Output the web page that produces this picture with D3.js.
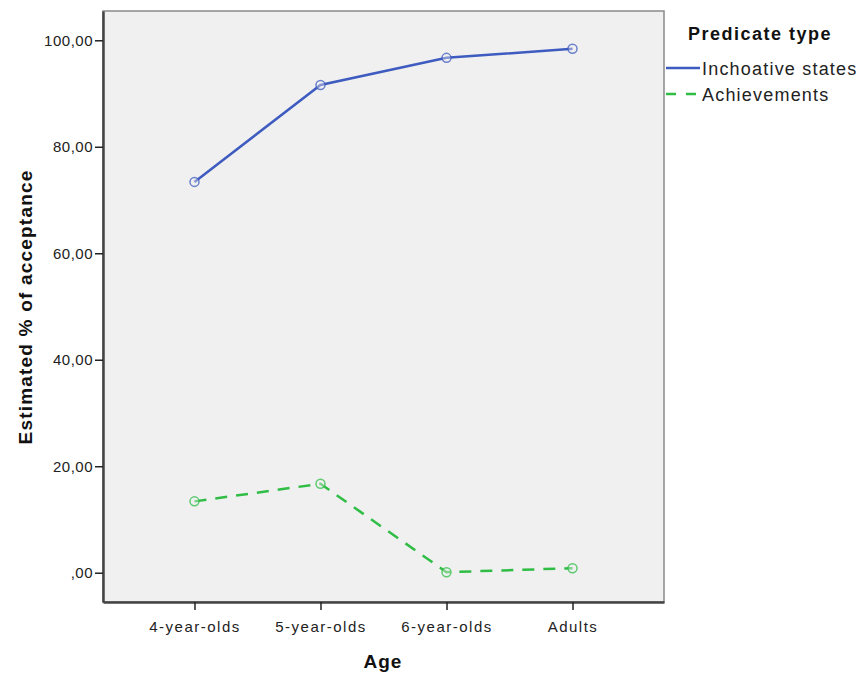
<!DOCTYPE html>
<html><head><meta charset="utf-8">
<script src="https://cdn.jsdelivr.net/npm/d3@7"></script>
<style>body{margin:0;background:#fff;} text{font-family:"Liberation Sans",Arial,sans-serif;}</style>
</head><body>
<svg id="c" width="863" height="673"></svg>
<script>
const categories = ["4-year-olds","5-year-olds","6-year-olds","Adults"];
const inchoative = [73.4, 91.6, 96.7, 98.4];
const achievements = [13.4, 16.7, 0.1, 0.85];
const seriesNames = ["Inchoative states","Achievements"];
const yTicks = [0,20,40,60,80,100];
const yTickLabels = [",00","20,00","40,00","60,00","80,00","100,00"];

const svg = d3.select("#c");
const L=103, T=11, R=664, B=602;
const x = d3.scalePoint().domain(categories).range([L,R]).padding(0.726);
const y = d3.scaleLinear().domain([-5.5,105.5]).range([B,T]);

svg.append("rect").attr("x",L).attr("y",T).attr("width",R-L).attr("height",B-T)
  .attr("fill","#f0f0f0").attr("stroke","#8a8a8a").attr("stroke-width",1.5);

// axes
const ya = svg.append("g").attr("transform",`translate(${L},0)`)
  .call(d3.axisLeft(y).tickValues(yTicks).tickFormat((d,i)=>yTickLabels[i]).tickSize(8).tickSizeOuter(0).tickPadding(2));
const xa = svg.append("g").attr("transform",`translate(0,${B})`)
  .call(d3.axisBottom(x).tickSize(8).tickSizeOuter(0).tickPadding(5));
[ya,xa].forEach(g=>{
  g.select(".domain").attr("stroke","#444").attr("stroke-width",2.5);
  g.selectAll(".tick line").attr("stroke","#222").attr("stroke-width",1.5);
  g.selectAll(".tick text").attr("fill","#222").style("font-size","15px").style("font-family","'Liberation Sans',Arial,sans-serif");
});
ya.selectAll(".tick text").style("letter-spacing","0.5px");
xa.selectAll(".tick text").attr("dy","1.15em").style("letter-spacing","1.5px");

const series = [
  {name:seriesNames[0], vals:inchoative, color:"#3e5bbf", dash:null},
  {name:seriesNames[1], vals:achievements, color:"#2fbd45", dash:"12,9"}
];
const line = d3.line().x((d,i)=>x(categories[i])).y(d=>y(d));
series.forEach(s=>{
  svg.append("path").datum(s.vals).attr("d",line).attr("fill","none")
    .attr("stroke",s.color).attr("stroke-width",2.5).attr("stroke-dasharray",s.dash);
  svg.selectAll(null).data(s.vals).enter().append("circle")
    .attr("cx",(d,i)=>x(categories[i])).attr("cy",d=>y(d)).attr("r",4.5)
    .attr("fill","#f0f0f0").attr("fill-opacity",0.4).attr("stroke",s.color).attr("stroke-opacity",0.75).attr("stroke-width",1.5);
});

// titles
svg.append("text").attr("x",383).attr("y",668).attr("text-anchor","middle")
  .style("font-size","19px").style("font-weight","bold").style("letter-spacing","1px").attr("fill","#111").text("Age");
svg.append("text").attr("transform","translate(32,307) rotate(-90)").attr("text-anchor","middle")
  .style("font-size","19px").style("font-weight","bold").style("letter-spacing","1.2px").attr("fill","#111").text("Estimated % of acceptance");

// legend
svg.append("text").attr("x",688).attr("y",40).style("font-size","18px").style("font-weight","bold")
  .style("letter-spacing","1.5px").attr("fill","#111").text("Predicate type");
series.forEach((s,i)=>{
  const yy = 68 + i*26;
  svg.append("line").attr("x1",666).attr("x2",700).attr("y1",yy).attr("y2",yy)
    .attr("stroke",s.color).attr("stroke-width",2.5).attr("stroke-dasharray",s.dash?"10,10":null);
  svg.append("text").attr("x",702).attr("y",yy+7).style("font-size","18px").style("letter-spacing","1.2px")
    .attr("fill","#222").text(s.name);
});
</script>
</body></html>
